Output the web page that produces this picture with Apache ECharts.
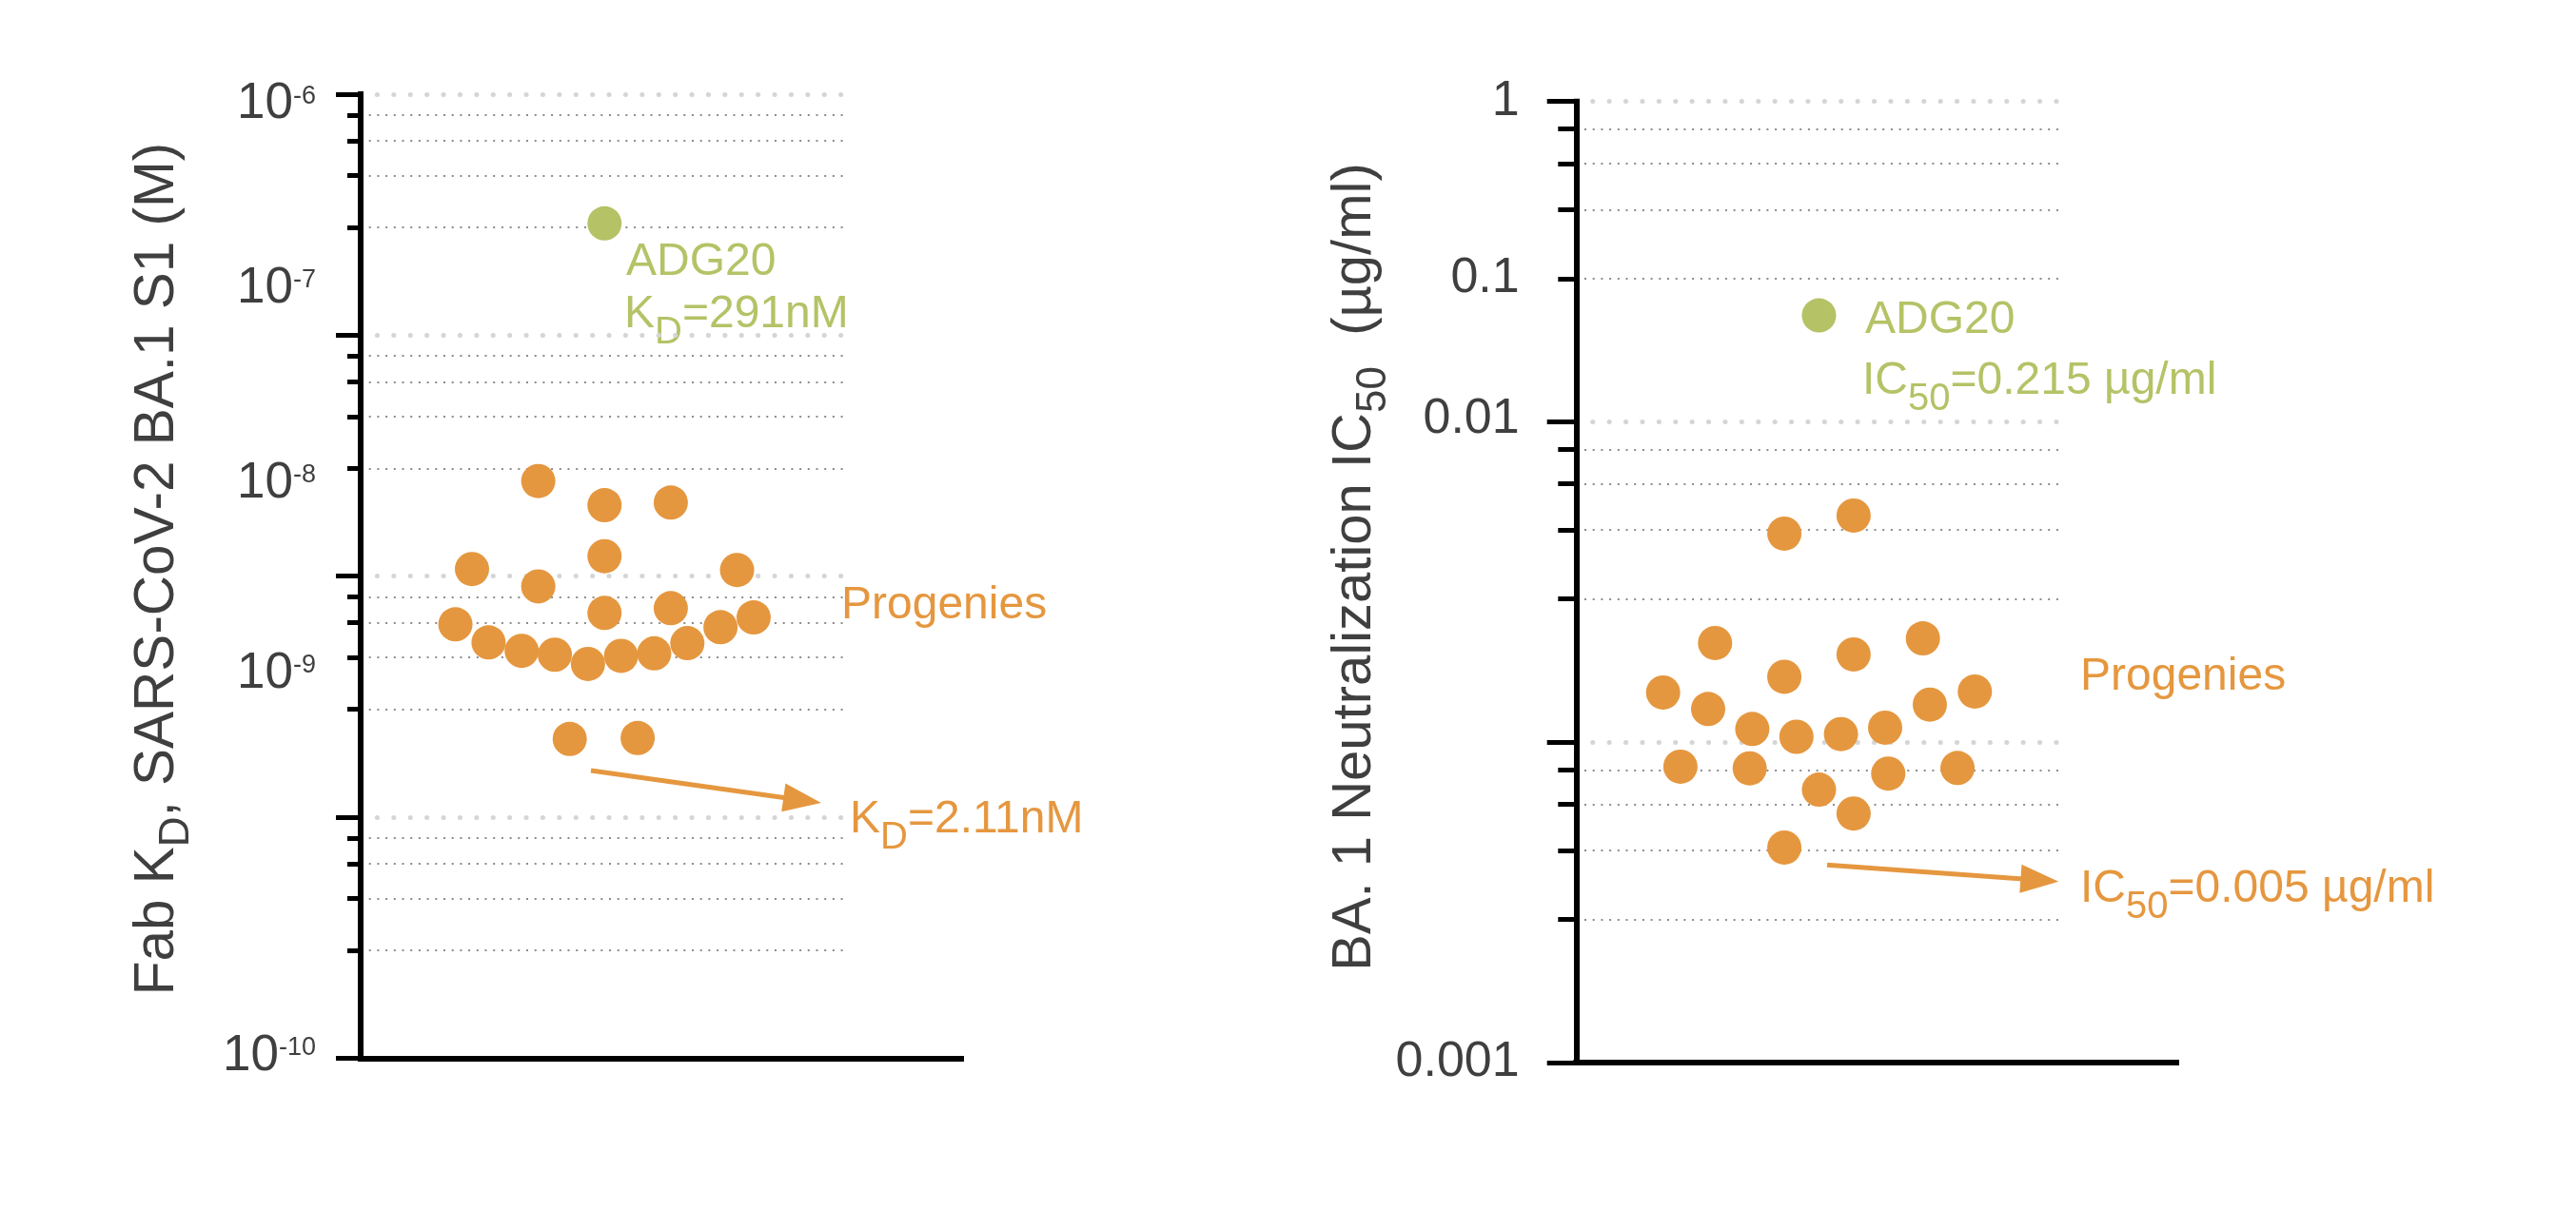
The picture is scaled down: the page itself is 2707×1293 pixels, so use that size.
<!DOCTYPE html>
<html>
<head>
<meta charset="utf-8">
<title>Fab KD and BA.1 neutralization IC50</title>
<script src="https://cdn.jsdelivr.net/npm/echarts@6.0.0/dist/echarts.min.js"></script>
<style>
html, body { margin: 0; padding: 0; background: #ffffff; }
#chart { width: 2707px; height: 1293px; }
</style>
</head>
<body>
<div id="chart"></div>
<script>
// ---------------- data ----------------
// Left panel: Fab KD (M), SARS-CoV-2 BA.1 S1
const kdProgenySlot  = [-4, 0, 4, -8, 0, 8, -4, 0, 4, -9, -7, -5, -3, -1, 1, 3, 5, 7, 9, -2.1, 2.0];
const kdProgenyValue = [2.48e-8, 1.97e-8, 2.02e-8, 1.07e-8, 1.21e-8, 1.06e-8, 9.07e-9, 7.04e-9, 7.36e-9,
                        6.31e-9, 5.31e-9, 4.90e-9, 4.72e-9, 4.32e-9, 4.67e-9, 4.78e-9, 5.27e-9, 6.14e-9,
                        6.74e-9, 2.11e-9, 2.13e-9];
const kdAdg20Slot  = [0];
const kdAdg20Value = [2.91e-7];

// Right panel: BA.1 neutralization IC50 (µg/ml)
const icProgenySlot  = [-2, 2, -6, 2, 6, -2, -9, -6.4, 9, 6.4, -3.85, -1.3, 1.27, 3.82, -8, -4, 4, 8, 0, 2, -2];
const icProgenyValue = [0.0448, 0.0510, 0.0204, 0.0188, 0.0211, 0.0160, 0.0143, 0.0127, 0.0144, 0.0131,
                        0.0110, 0.0104, 0.0106, 0.0111, 0.00839, 0.00829, 0.00798, 0.00831, 0.00711,
                        0.00599, 0.00469];
const icAdg20Slot  = [0];
const icAdg20Value = [0.215];

// Axis ranges and ticks
const kdRange = [1e-10, 1e-6];
const icRange = [1e-3, 1];
const kdDecadeExp = [-10, -9, -8, -7, -6];
const icDecadeExp = [-3, -2, -1, 0];
const minorMantissa = [2.8, 4.6, 6.4, 8.2];

// Tick label texts and the axis values where the reference prints them
const kdTickBase = ['10', '10', '10', '10', '10'];
const kdTickExp  = ['-6', '-7', '-8', '-9', '-10'];
const kdTickAt   = [9.07e-7, 1.56e-7, 2.42e-8, 3.94e-9, 1.02e-10];
const icTickText = ['1', '0.1', '0.01', '0.001'];
const icTickAt   = [1, 0.281, 0.1019, 0.001];

// Arrow annotations (data coordinates: [slot, value])
const kdArrow = [[-0.82, 1.56e-9], [11.94, 1.175e-9]];
const icArrow = [[0.47, 0.00414], [12.74, 0.003711]];

// ---------------- styling ----------------
const ORANGE = '#E5973F';
const GREEN = '#B5C266';
const TEXT = '#3f3f3f';
const FONT = '"Liberation Sans", Arial, Helvetica, sans-serif';

function decades(exps) { return exps.map(e => Math.pow(10, e)); }
function minors(exps) {
  const out = [];
  for (let i = 0; i < exps.length - 1; i++) {
    minorMantissa.forEach(m => out.push(m * Math.pow(10, exps[i])));
  }
  return out;
}
function nearestIdx(arr, v) {
  let best = 0, bd = Infinity;
  arr.forEach((a, i) => { const d = Math.abs(Math.log10(a) - Math.log10(v)); if (d < bd) { bd = d; best = i; } });
  return best;
}
function zip(xs, ys) { return xs.map((x, i) => [x, ys[i]]); }

const heavyGrid = { color: '#d5d5d5', width: 5, type: [0.1, 17.3], cap: 'round' };
const fineGrid = { color: '#8c8c8c', width: 2, type: [2, 6.7] };

function frameX(gridIndex) {
  return {
    type: 'value', gridIndex: gridIndex, min: 0, max: 1, z: 5,
    axisLine: { show: true, onZero: false, lineStyle: { color: '#000', width: 6, cap: 'square' } },
    axisTick: { show: false }, axisLabel: { show: false }, splitLine: { show: false }
  };
}
function plotX(gridIndex, min, max) {
  return { type: 'value', gridIndex: gridIndex, min: min, max: max, show: false,
           axisLine: { show: false, onZero: false }, splitLine: { show: false } };
}
function frameY(gridIndex) {
  return { type: 'value', gridIndex: gridIndex, show: false,
           axisLine: { show: false, onZero: false }, splitLine: { show: false } };
}
function majorY(gridIndex, range, exps, tickLen, labelAt, margin, formatter, rich) {
  return {
    type: 'log', logBase: 10, gridIndex: gridIndex, position: 'left',
    min: range[0] * 0.99999, max: range[1] * 1.00001,
    axisLine: { show: true, onZero: false, lineStyle: { color: '#000', width: 6, cap: 'square' } },
    axisTick: { show: true, length: tickLen, customValues: decades(exps), lineStyle: { color: '#000', width: 5 } },
    axisLabel: { show: true, customValues: labelAt, margin: margin, formatter: formatter,
                 color: TEXT, fontFamily: FONT, fontSize: 52, rich: rich },
    splitLine: { show: true, showMinLine: false, lineStyle: heavyGrid }
  };
}
function minorY(gridIndex, range, exps, tickLen) {
  return {
    type: 'log', logBase: 10, gridIndex: gridIndex, position: 'left', offset: 0,
    min: range[0] * 0.99999, max: range[1] * 1.00001,
    axisLine: { show: false, onZero: false },
    axisTick: { show: true, length: tickLen, customValues: minors(exps), lineStyle: { color: '#000', width: 5 } },
    axisLabel: { show: false },
    splitLine: { show: true, lineStyle: fineGrid }
  };
}

const kdRich = {
  b: { fontSize: 53, fontFamily: FONT, color: TEXT },
  s: { fontSize: 27, fontFamily: FONT, color: TEXT, padding: [0, 0, 17, 0] }
};
const icRich = { b: { fontSize: 52, fontFamily: FONT, color: TEXT } };

function arrowLine(arrow) {
  return {
    silent: true, animation: false,
    symbol: ['none', 'triangle'], symbolSize: [30, 40],
    lineStyle: { color: ORANGE, width: 5, type: 'solid', opacity: 1 },
    itemStyle: { color: ORANGE },
    label: { show: false },
    emphasis: { disabled: true },
    data: [[{ coord: arrow[0] }, { coord: arrow[1] }]]
  };
}

function text(x, y, str, color, size, rich, extra) {
  return {
    type: 'text', x: x, y: y, silent: true,
    style: Object.assign({ text: str, fill: color, fontSize: size, fontFamily: FONT,
                           align: 'left', verticalAlign: 'middle', rich: rich || {} }, extra || {})
  };
}
function subRich(color, size, pad) {
  return { sub: { fontSize: size, fontFamily: FONT, fill: color, padding: [pad, 0, 0, 0] } };
}

const option = {
  animation: false,
  backgroundColor: '#ffffff',
  textStyle: { fontFamily: FONT },
  grid: [
    { left: 379, top: 99, width: 631, height: 1013.3, outerBoundsMode: 'none', containLabel: false },
    { left: 379, top: 99, width: 508, height: 1013.3, outerBoundsMode: 'none', containLabel: false },
    { left: 1656.3, top: 106.7, width: 630.7, height: 1010.3, outerBoundsMode: 'none', containLabel: false },
    { left: 1656.3, top: 106.7, width: 506.7, height: 1010.3, outerBoundsMode: 'none', containLabel: false }
  ],
  xAxis: [
    frameX(0),
    plotX(1, -14.72, 14.46),
    frameX(2),
    plotX(3, -14.02, 13.82)
  ],
  yAxis: [
    frameY(0),
    majorY(1, kdRange, kdDecadeExp, 26, kdTickAt, 47,
      v => { const i = nearestIdx(kdTickAt, v); return '{b|' + kdTickBase[i] + '}{s|' + kdTickExp[i] + '}'; }, kdRich),
    minorY(1, kdRange, kdDecadeExp, 14),
    frameY(2),
    majorY(3, icRange, icDecadeExp, 30.6, icTickAt, 59.6,
      v => '{b|' + icTickText[nearestIdx(icTickAt, v)] + '}', icRich),
    minorY(3, icRange, icDecadeExp, 19)
  ],
  series: [
    { name: 'ADG20 KD', type: 'scatter', xAxisIndex: 1, yAxisIndex: 1, z: 4,
      symbol: 'circle', symbolSize: 36, itemStyle: { color: GREEN, opacity: 1 },
      data: zip(kdAdg20Slot, kdAdg20Value), emphasis: { disabled: true } },
    { name: 'Progenies KD', type: 'scatter', xAxisIndex: 1, yAxisIndex: 1, z: 4,
      symbol: 'circle', symbolSize: 36, itemStyle: { color: ORANGE, opacity: 1 },
      data: zip(kdProgenySlot, kdProgenyValue), emphasis: { disabled: true },
      markLine: arrowLine(kdArrow) },
    { name: 'ADG20 IC50', type: 'scatter', xAxisIndex: 3, yAxisIndex: 4, z: 4,
      symbol: 'circle', symbolSize: 36, itemStyle: { color: GREEN, opacity: 1 },
      data: zip(icAdg20Slot, icAdg20Value), emphasis: { disabled: true } },
    { name: 'Progenies IC50', type: 'scatter', xAxisIndex: 3, yAxisIndex: 4, z: 4,
      symbol: 'circle', symbolSize: 36, itemStyle: { color: ORANGE, opacity: 1 },
      data: zip(icProgenySlot, icProgenyValue), emphasis: { disabled: true },
      markLine: arrowLine(icArrow) }
  ],
  graphic: [
    // axis titles
    text(166, 598, 'Fab K{sub|D}, SARS-CoV-2 BA.1 S1 (M)', TEXT, 58.5, subRich(TEXT, 44, 40),
         { align: 'center' }),
    text(1424, 596, 'BA. 1 Neutralization IC{sub|50}  (µg/ml)', TEXT, 58, subRich(TEXT, 44, 40),
         { align: 'center' }),
    // left annotations
    text(658, 276, 'ADG20', GREEN, 48),
    text(656, 331, 'K{sub|D}=291nM', GREEN, 48, subRich(GREEN, 40, 38)),
    text(884, 637, 'Progenies', ORANGE, 48),
    text(893, 862, 'K{sub|D}=2.11nM', ORANGE, 48, subRich(ORANGE, 40, 38)),
    // right annotations
    text(1960, 337, 'ADG20', GREEN, 48),
    text(1957, 401, 'IC{sub|50}=0.215 µg/ml', GREEN, 48, subRich(GREEN, 40, 38)),
    text(2186, 712, 'Progenies', ORANGE, 48),
    text(2186, 935, 'IC{sub|50}=0.005 µg/ml', ORANGE, 48, subRich(ORANGE, 40, 38))
  ]
};
// rotate the two axis titles
option.graphic[0].rotation = Math.PI / 2;
option.graphic[1].rotation = Math.PI / 2;

const chart = echarts.init(document.getElementById('chart'), null, { renderer: 'canvas', width: 2707, height: 1293 });
chart.setOption(option);
</script>
</body>
</html>
